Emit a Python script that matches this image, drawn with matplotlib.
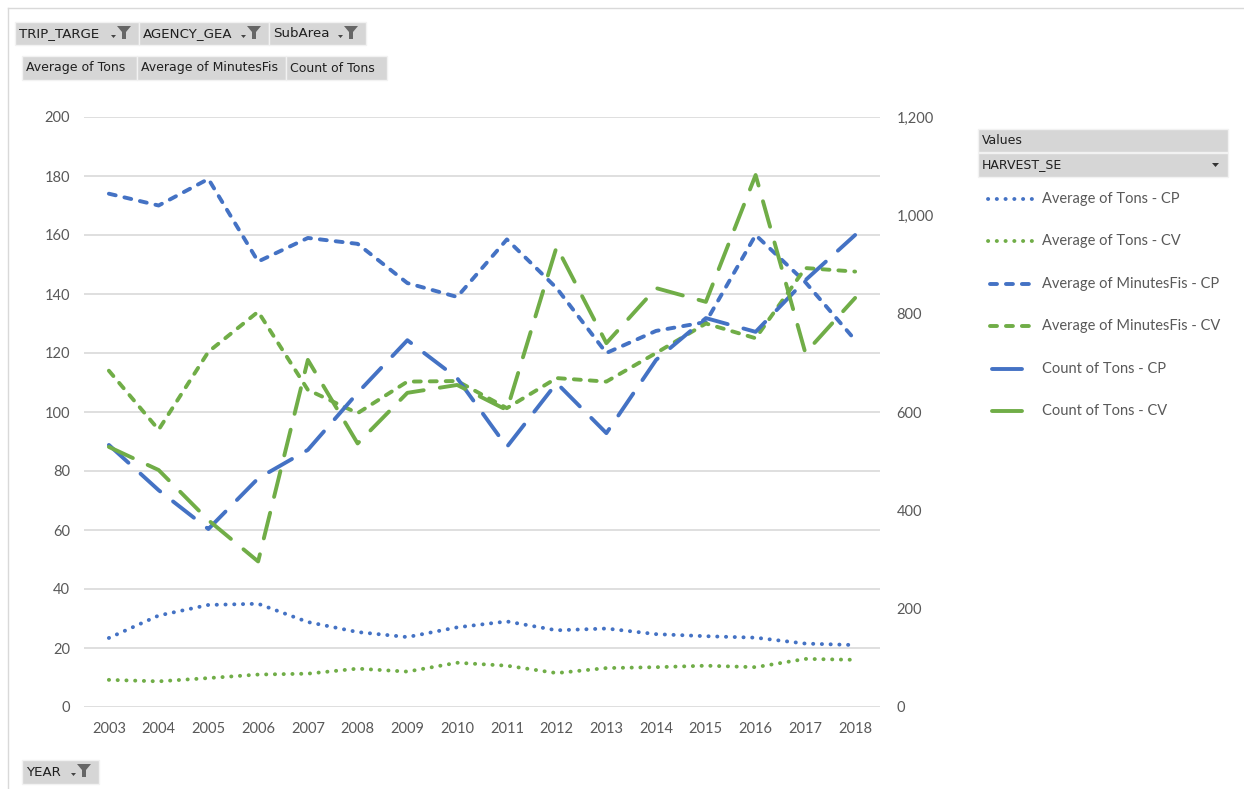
import matplotlib
matplotlib.use('Agg')
import matplotlib.pyplot as plt
from matplotlib.lines import Line2D
from matplotlib.patches import Rectangle, Polygon
from matplotlib.ticker import FuncFormatter, MultipleLocator

years = [str(y) for y in range(2003, 2019)]

avg_tons_cp = [23.4, 31, 34.6, 35, 28.8, 25.4, 23.7, 27, 29, 26, 26.6, 24.7, 24, 23.5, 21.5, 21]
avg_tons_cv = [9.2, 8.7, 9.8, 11, 11.3, 13, 12, 15, 14, 11.5, 13.2, 13.5, 14, 13.5, 16.3, 16]
avg_min_cp = [174, 170, 179, 151, 159, 157, 143.7, 139, 158.5, 142, 120, 127.5, 130.5, 160, 144, 124.4]
avg_min_cv = [114, 94, 120.4, 134, 107.5, 99.6, 110.3, 110.5, 101.3, 111.5, 110.3, 120, 130, 125, 148.8, 147.6]
# count of tons is on the secondary axis
count_cp = [533, 441, 362, 465, 523, 639, 746, 669, 529, 659, 557, 706, 791, 763, 868, 960]
count_cv = [529, 482, 380, 296, 706, 536, 639, 655, 604, 936, 740, 852, 824, 1082, 720, 832]

BLUE = '#4472C4'
GREEN = '#70AD47'
GREY = '#595959'
FONT = ['Lato', 'DejaVu Sans']

plt.rcParams['font.family'] = FONT

W, H = 1244, 789
fig = plt.figure(figsize=(W / 100, H / 100), dpi=100)


def fx(px):
    return px / W


def fy(py):
    return 1 - py / H


ax = fig.add_axes([fx(84), fy(707), fx(880) - fx(84), fy(117) - fy(707)])
ax2 = ax.twinx()

x = list(range(len(years)))
lw = 2.8
dot = dict(linestyle=(0, (0.05, 2.2)), dash_capstyle='round', lw=lw)
dash = dict(linestyle=(0, (1.8, 2.3)), dash_capstyle='round', lw=lw)
long_dash = dict(linestyle=(0, (6.8, 4.2)), dash_capstyle='round', lw=lw)

ax.plot(x, avg_tons_cp, color=BLUE, **dot)
ax.plot(x, avg_tons_cv, color=GREEN, **dot)
ax.plot(x, avg_min_cp, color=BLUE, **dash)
ax.plot(x, avg_min_cv, color=GREEN, **dash)
ax2.plot(x, count_cp, color=BLUE, **long_dash)
ax2.plot(x, count_cv, color=GREEN, **long_dash)

ax.set_xlim(-0.5, len(years) - 0.5)
ax.set_ylim(0, 200)
ax2.set_ylim(0, 1200)
ax.yaxis.set_major_locator(MultipleLocator(20))
ax2.yaxis.set_major_locator(MultipleLocator(200))
ax2.yaxis.set_major_formatter(FuncFormatter(lambda v, p: f'{int(v):,}'))
ax.set_xticks(x)
ax.set_xticklabels(years)
ax.grid(axis='y', color='#D9D9D9', lw=1.2)
ax.set_axisbelow(True)
for a in (ax, ax2):
    for s in a.spines.values():
        s.set_visible(False)
    a.tick_params(length=0, labelsize=10.5, labelcolor=GREY)
ax.tick_params(axis='y', pad=10)
ax2.tick_params(axis='y', pad=12)
ax.tick_params(axis='x', pad=11)

# outer frame
fig.add_artist(Line2D([fx(8), fx(W)], [fy(8), fy(8)], color='#D9D9D9', lw=1))
fig.add_artist(Line2D([fx(8), fx(8)], [fy(8), fy(H)], color='#D9D9D9', lw=1))


def funnel(px, py):
    pts = [(px, py), (px + 14, py), (px + 9, py + 6), (px + 9, py + 13),
           (px + 5, py + 13), (px + 5, py + 6)]
    fig.add_artist(Polygon([(fx(a), fy(b)) for a, b in pts], closed=True,
                           facecolor='#666666', edgecolor='none'))
    fig.add_artist(Polygon([(fx(px - 6), fy(py + 9)), (fx(px - 1), fy(py + 9)),
                            (fx(px - 3.5), fy(py + 12))], closed=True,
                           facecolor='#444444', edgecolor='none'))


def button(x0, x1, y0, y1, label, filt=False, fs=9.5):
    fig.add_artist(Rectangle((fx(x0), fy(y1)), fx(x1) - fx(x0), fy(y0) - fy(y1),
                             facecolor='#D6D6D6', edgecolor='#F2F2F2', lw=1))
    fig.text(fx(x0 + 4), fy((y0 + y1) / 2), label, fontsize=fs, color='#1F1F1F',
             va='center', ha='left', family=['DejaVu Sans'])
    if filt:
        funnel(x1 - 22, y0 + 4)


button(15, 139, 22, 45, 'TRIP_TARGE', True, 9.6)
button(139, 269, 22, 45, 'AGENCY_GEA', True, 9.6)
button(269, 366, 22, 45, 'SubArea', True, 9.6)
button(22, 137, 56, 80, 'Average of Tons', fs=9)
button(137, 286, 56, 80, 'Average of MinutesFis', fs=9)
button(286, 387, 56, 80, 'Count of Tons', fs=9)
button(22, 99, 760, 784, 'YEAR', True, 9.6)

# legend
button(978, 1228, 129, 152, 'Values', fs=9)
button(978, 1228, 153, 177, 'HARVEST_SE', fs=9)
fig.add_artist(Polygon([(fx(1212), fy(163)), (fx(1219), fy(163)), (fx(1215.5), fy(167))],
                       closed=True, facecolor='#333333', edgecolor='none'))

entries = [
    ('Average of Tons - CP', BLUE, dot, 988, 1037),
    ('Average of Tons - CV', GREEN, dot, 988, 1037),
    ('Average of MinutesFis - CP', BLUE, dash, 990, 1036),
    ('Average of MinutesFis - CV', GREEN, dash, 990, 1036),
    ('Count of Tons - CP', BLUE, dict(linestyle='-', lw=lw, solid_capstyle='round'), 992, 1022),
    ('Count of Tons - CV', GREEN, dict(linestyle='-', lw=lw, solid_capstyle='round'), 992, 1022),
]
for i, (lab, col, sty, x0, x1) in enumerate(entries):
    yy = 199 + i * 42.4
    fig.add_artist(Line2D([fx(x0), fx(x1)], [fy(yy), fy(yy)], color=col, **sty))
    fig.text(fx(1042), fy(yy), lab, fontsize=10.5, color=GREY, va='center', ha='left')

fig.savefig('out.png', dpi=100)
